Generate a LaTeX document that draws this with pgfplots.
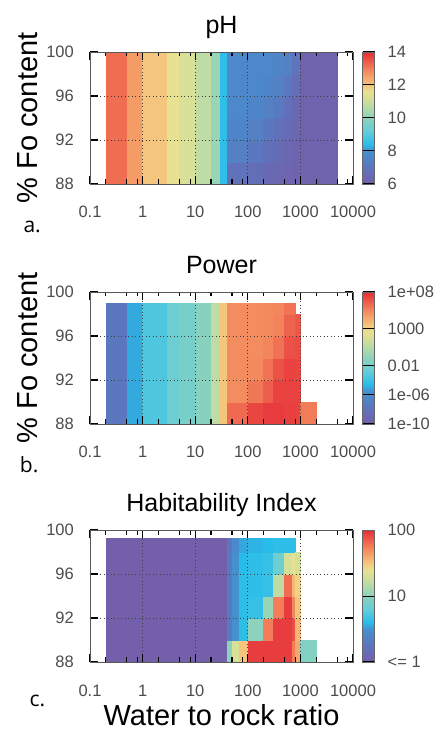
\documentclass[border=0pt]{standalone}
\usepackage{fontspec}
\setmainfont{Liberation Sans}
\newfontfamily\panelfont{Open Sans}
\usepackage{pgfplots}
\pgfplotsset{compat=1.18}

\newcommand\fsz[1]{\fontsize{#1bp}{#1bp}\selectfont}

\pgfplotsset{
  colormap={spec}{
    rgb255(0cm)=(115,95,170) rgb255(12cm)=(95,115,188) rgb255(25cm)=(68,145,208)
    rgb255(30cm)=(40,188,234) rgb255(40cm)=(100,205,215) rgb255(50cm)=(140,210,188)
    rgb255(62cm)=(200,222,158) rgb255(70cm)=(232,225,145) rgb255(76cm)=(246,192,120)
    rgb255(86cm)=(243,135,92) rgb255(100cm)=(230,45,55)
  },
  /pgfplots/hmap/.style={
    scale only axis, width=263bp, height=132bp, clip=false,
    xmin=0.1, xmax=10000, ymin=88, ymax=100,
    xtick={0.1,1,10,100,1000,10000},
    xticklabels={0.1,1,10,100,1000,10000},
    minor xtick={0.2,0.5,0.8,2,5,8,20,50,80,200,500,800,2000,5000,8000},
    ytick={88,92,96,100}, yticklabels={88,92,96,100},
    grid=major, major grid style={dash pattern=on 0.9pt off 2.6pt, black!75, line width=0.8pt},
    axis on top, tick align=inside,
    major tick length=8bp, minor tick length=4.5bp,
    tick style={black, line width=1.1pt},
    axis line style={black!65, line width=0.7pt},
    tick label style={font=\fsz{16.5}, text=black!70, inner sep=0pt},
    xticklabel style={anchor=base, yshift=-34bp},
    yticklabel style={anchor=east, xshift=-16bp},
    title style={font=\fsz{25}, anchor=base, yshift=13bp},
    ylabel style={at={(axis description cs:-0.236,0.5)}, rotate=0, anchor=center, font=\fsz{29}},
    xlabel style={at={(axis description cs:0.5,0)}, anchor=base, inner sep=0pt, yshift=-63bp, font=\fsz{29}},
    colormap name=spec,
  },
  /pgfplots/hbar/.style={
    colorbar,
    colorbar style={
      at={(parent axis.north east)}, anchor=north west, xshift=1bp,
      width=12bp, axis on top,
      tick align=inside, major tick length=12bp,
      tick style={black, line width=1pt},
      axis line style={black!60, line width=0.6pt},
      tick label style={font=\fsz{16.5}, text=black!70, inner sep=0pt},
      yticklabel style={anchor=west, xshift=13bp},
    },
  },
  /pgfplots/cells/.style={surf, shader=flat corner, point meta=explicit},
}

\begin{document}
\begin{tikzpicture}
\useasboundingbox (0bp,0bp) rectangle (434bp,733bp);

% a. pH
\begin{semilogxaxis}[hmap, hbar, at={(90bp,549bp)}, anchor=south west,
  title={pH}, ylabel={\% Fo content},
  point meta min=6, point meta max=14,
  colorbar style={ytick={6,8,10,12,14}, yticklabels={6,8,10,12,14}}]
\addplot[cells, mesh/rows=7] table[row sep=\\, meta=c]{
x y c\\
0.2 88 13.2\\ 0.5 88 12.6\\ 1 88 12.0\\ 3 88 11.6\\ 5 88 11.3\\ 10 88 10.8\\ 20 88 10.2\\ 30 88 8.5\\ 40 88 6.9\\ 100 88 6.7\\ 200 88 6.5\\ 300 88 6.4\\ 500 88 6.3\\ 700 88 6.2\\ 1000 88 6.2\\ 2000 88 6.2\\ 5000 88 6.2\\
0.2 90 13.2\\ 0.5 90 12.6\\ 1 90 12.0\\ 3 90 11.6\\ 5 90 11.3\\ 10 90 10.8\\ 20 90 10.2\\ 30 90 8.5\\ 40 90 7.4\\ 100 90 7.1\\ 200 90 6.8\\ 300 90 6.6\\ 500 90 6.4\\ 700 90 6.3\\ 1000 90 6.2\\ 2000 90 6.2\\ 5000 90 6.2\\
0.2 92 13.2\\ 0.5 92 12.6\\ 1 92 12.0\\ 3 92 11.6\\ 5 92 11.3\\ 10 92 10.8\\ 20 92 10.2\\ 30 92 8.5\\ 40 92 7.6\\ 100 92 7.4\\ 200 92 7.1\\ 300 92 6.8\\ 500 92 6.6\\ 700 92 6.4\\ 1000 92 6.2\\ 2000 92 6.2\\ 5000 92 6.2\\
0.2 94 13.2\\ 0.5 94 12.6\\ 1 94 12.0\\ 3 94 11.6\\ 5 94 11.3\\ 10 94 10.8\\ 20 94 10.2\\ 30 94 8.5\\ 40 94 7.7\\ 100 94 7.6\\ 200 94 7.4\\ 300 94 7.2\\ 500 94 6.8\\ 700 94 6.5\\ 1000 94 6.2\\ 2000 94 6.2\\ 5000 94 6.2\\
0.2 96 13.2\\ 0.5 96 12.6\\ 1 96 12.0\\ 3 96 11.6\\ 5 96 11.3\\ 10 96 10.8\\ 20 96 10.2\\ 30 96 8.5\\ 40 96 7.7\\ 100 96 7.7\\ 200 96 7.6\\ 300 96 7.4\\ 500 96 7.1\\ 700 96 6.7\\ 1000 96 6.2\\ 2000 96 6.2\\ 5000 96 6.2\\
0.2 98 13.2\\ 0.5 98 12.6\\ 1 98 12.0\\ 3 98 11.6\\ 5 98 11.3\\ 10 98 10.8\\ 20 98 10.2\\ 30 98 8.5\\ 40 98 7.7\\ 100 98 7.7\\ 200 98 7.7\\ 300 98 7.6\\ 500 98 7.4\\ 700 98 7.0\\ 1000 98 6.2\\ 2000 98 6.2\\ 5000 98 6.2\\
0.2 100 13.2\\ 0.5 100 12.6\\ 1 100 12.0\\ 3 100 11.6\\ 5 100 11.3\\ 10 100 10.8\\ 20 100 10.2\\ 30 100 8.5\\ 40 100 7.7\\ 100 100 7.7\\ 200 100 7.7\\ 300 100 7.6\\ 500 100 7.4\\ 700 100 7.0\\ 1000 100 6.2\\ 2000 100 6.2\\ 5000 100 6.2\\
};
\node[anchor=base west, font=\panelfont\fsz{21}] at (axis description cs:-0.266,-0.364) {a.};
\end{semilogxaxis}

% b. Power (log10 of the value)
\begin{semilogxaxis}[hmap, hbar, at={(90bp,309bp)}, anchor=south west,
  title={Power}, ylabel={\% Fo content},
  point meta min=-10, point meta max=8,
  colorbar style={ytick={-10,-6,-2,3,8}, yticklabels={1e-10,1e-06,0.01,1000,1e+08}}]
\addplot[cells, mesh/rows=7] table[row sep=\\, meta=c]{
x y c\\
0.2 88 -7.5\\ 0.5 88 -5\\ 1 88 -3.5\\ 3 88 -2.4\\ 5 88 -1.9\\ 10 88 -1.2\\ 20 88 0.8\\ 30 88 3.5\\ 40 88 6.3\\ 100 88 7.3\\ 200 88 7.6\\ 300 88 7.6\\ 500 88 7.5\\ 800 88 7.5\\
0.2 90 -7.5\\ 0.5 90 -5\\ 1 90 -3.5\\ 3 90 -2.4\\ 5 90 -1.9\\ 10 90 -1.2\\ 20 90 0.8\\ 30 90 3.5\\ 40 90 5.3\\ 100 90 5.9\\ 200 90 6.6\\ 300 90 7.4\\ 500 90 7.4\\ 800 90 7.4\\
0.2 92 -7.5\\ 0.5 92 -5\\ 1 92 -3.5\\ 3 92 -2.4\\ 5 92 -1.9\\ 10 92 -1.2\\ 20 92 0.8\\ 30 92 3.5\\ 40 92 5.3\\ 100 92 5.4\\ 200 92 6.1\\ 300 92 7.0\\ 500 92 7.4\\ 800 92 7.4\\
0.2 94 -7.5\\ 0.5 94 -5\\ 1 94 -3.5\\ 3 94 -2.4\\ 5 94 -1.9\\ 10 94 -1.2\\ 20 94 0.8\\ 30 94 3.5\\ 40 94 5.3\\ 100 94 5.3\\ 200 94 5.5\\ 300 94 6.1\\ 500 94 7.0\\ 800 94 7.0\\
0.2 96 -7.5\\ 0.5 96 -5\\ 1 96 -3.5\\ 3 96 -2.4\\ 5 96 -1.9\\ 10 96 -1.2\\ 20 96 0.8\\ 30 96 3.5\\ 40 96 5.3\\ 100 96 5.3\\ 200 96 5.4\\ 300 96 5.6\\ 500 96 6.5\\ 800 96 6.5\\
0.2 98 -7.5\\ 0.5 98 -5\\ 1 98 -3.5\\ 3 98 -2.4\\ 5 98 -1.9\\ 10 98 -1.2\\ 20 98 0.8\\ 30 98 3.5\\ 40 98 5.3\\ 100 98 5.3\\ 200 98 5.4\\ 300 98 5.5\\ 500 98 6.0\\ 800 98 6.0\\
0.2 99 -7.5\\ 0.5 99 -5\\ 1 99 -3.5\\ 3 99 -2.4\\ 5 99 -1.9\\ 10 99 -1.2\\ 20 99 0.8\\ 30 99 3.5\\ 40 99 5.3\\ 100 99 5.3\\ 200 99 5.4\\ 300 99 5.5\\ 500 99 6.0\\ 800 99 6.0\\
};
\addplot[cells, mesh/rows=6] table[row sep=\\, meta=c]{
x y c\\
800 88 7.4\\ 1000 88 7.4\\
800 90 7.4\\ 1000 90 7.4\\
800 92 7.3\\ 1000 92 7.3\\
800 94 7.1\\ 1000 94 7.1\\
800 96 6.8\\ 1000 96 6.8\\
800 98 6.8\\ 1000 98 6.8\\
};
\addplot[cells, mesh/rows=2] table[row sep=\\, meta=c]{
x y c\\
1000 88 5.8\\ 2000 88 5.8\\
1000 90 5.8\\ 2000 90 5.8\\
};
\node[anchor=base west, font=\panelfont\fsz{21}] at (axis description cs:-0.28,-0.371) {b.};
\end{semilogxaxis}

% c. Habitability index (log10 of the value)
\begin{semilogxaxis}[hmap, hbar, at={(90bp,71bp)}, anchor=south west,
  title={Habitability Index}, xlabel={Water to rock ratio},
  point meta min=0, point meta max=2,
  colorbar style={ytick={0,1,2}, yticklabels={<= 1,10,100}}]
\addplot[cells, mesh/rows=7] table[row sep=\\, meta=c]{
x y c\\
0.2 88 0\\ 40 88 1.0\\ 50 88 1.32\\ 70 88 1.5\\ 100 88 1.95\\ 200 88 1.95\\ 300 88 1.95\\ 500 88 1.95\\ 700 88 1.75\\ 800 88 1.75\\
0.2 90 0\\ 40 90 0.3\\ 50 90 0.5\\ 70 90 0.62\\ 100 90 1.0\\ 200 90 1.75\\ 300 90 1.95\\ 500 90 1.95\\ 700 90 1.9\\ 800 90 1.9\\
0.2 92 0\\ 40 92 0.3\\ 50 92 0.5\\ 70 92 0.62\\ 100 92 0.65\\ 200 92 1.05\\ 300 92 1.75\\ 500 92 1.95\\ 700 92 1.72\\ 800 92 1.72\\
0.2 94 0\\ 40 94 0.3\\ 50 94 0.5\\ 70 94 0.62\\ 100 94 0.62\\ 200 94 0.65\\ 300 94 1.2\\ 500 94 1.8\\ 700 94 1.55\\ 800 94 1.55\\
0.2 96 0\\ 40 96 0.3\\ 50 96 0.5\\ 70 96 0.6\\ 100 96 0.62\\ 200 96 0.65\\ 300 96 0.85\\ 500 96 1.3\\ 700 96 1.4\\ 800 96 1.4\\
0.2 98 0\\ 40 98 0.25\\ 50 98 0.45\\ 70 98 0.55\\ 100 98 0.58\\ 200 98 0.6\\ 300 98 0.62\\ 500 98 0.62\\ 700 98 0.62\\ 800 98 0.62\\
0.2 99.3 0\\ 40 99.3 0.25\\ 50 99.3 0.45\\ 70 99.3 0.55\\ 100 99.3 0.58\\ 200 99.3 0.6\\ 300 99.3 0.62\\ 500 99.3 0.62\\ 700 99.3 0.62\\ 800 99.3 0.62\\
};
\addplot[cells, mesh/rows=6] table[row sep=\\, meta=c]{
x y c\\
800 88 1.6\\ 1000 88 1.6\\
800 90 1.55\\ 1000 90 1.55\\
800 92 1.5\\ 1000 92 1.5\\
800 94 1.45\\ 1000 94 1.45\\
800 96 1.3\\ 1000 96 1.3\\
800 98 1.3\\ 1000 98 1.3\\
};
\addplot[cells, mesh/rows=2] table[row sep=\\, meta=c]{
x y c\\
1000 88 0.95\\ 2000 88 0.95\\
1000 90 0.95\\ 2000 90 0.95\\
};
\node[anchor=base west, font=\panelfont\fsz{21}] at (axis description cs:-0.243,-0.34) {c.};
\end{semilogxaxis}
\end{tikzpicture}
\end{document}
